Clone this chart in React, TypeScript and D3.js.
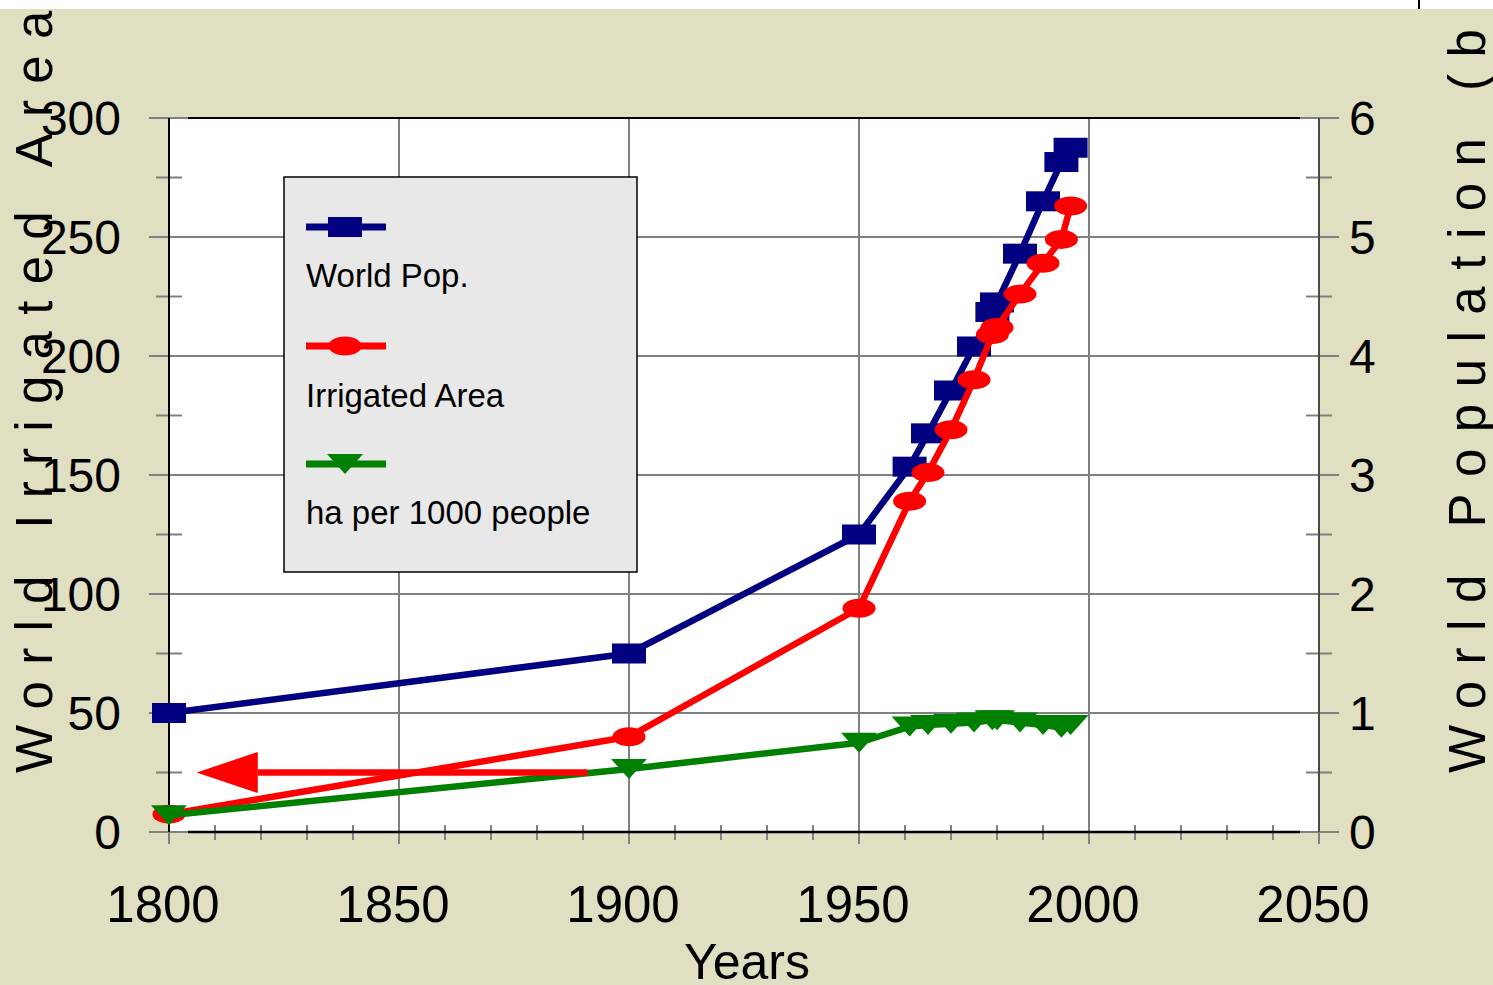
import React from "react";
import * as d3 from "d3";

// Series (years on x; population in billions on the right axis, area in Mha on the left)
const years = [1800, 1900, 1950, 1961, 1965, 1970, 1975, 1979, 1980, 1985, 1990, 1994, 1996];
const worldPop = [1.0, 1.5, 2.5, 3.07, 3.35, 3.71, 4.08, 4.37, 4.45, 4.86, 5.3, 5.63, 5.75];
const irrigatedArea = [7.5, 40, 94, 139, 151, 169, 190, 209, 212, 226, 239, 249, 263];
const haPer1000 = [7, 26.5, 37.5, 44.3, 45, 45.5, 46, 47, 47, 46, 45, 43.8, 45];

// Axis ticks
const xTicks = [1800, 1850, 1900, 1950, 2000, 2050];
const xMinorTicks = d3.range(1810, 2050, 10).filter((v) => v % 50 !== 0);
const leftTicks = [0, 50, 100, 150, 200, 250, 300];
const leftMinor = [25, 75, 125, 175, 225, 275];
const rightTicks = [0, 1, 2, 3, 4, 5, 6];

// Annotation arrow (points to the left axis): tail year, tip year, level on left axis
const arrowYears = [1891, 1806];
const arrowHeadBaseYear = 1819.3;
const arrowLevel = 25;

const legendLabels = ["World Pop.", "Irrigated Area", "ha per 1000 people"];

const W = 1493;
const H = 985;
const plot = { left: 169, right: 1319, top: 118, bottom: 832 };
const FONT = "'Liberation Sans', Arial, sans-serif";
const BG = "#E0DFC2";
const GRID = "#808080";

const BLUE = "#000080";
const RED = "#FF0000";
const GREEN = "#008000";

export default function App() {
  const x = d3.scaleLinear().domain([1800, 2050]).range([plot.left, plot.right]);
  const yL = d3.scaleLinear().domain([0, 300]).range([plot.bottom, plot.top]);
  const yR = d3.scaleLinear().domain([0, 6]).range([plot.bottom, plot.top]);

  const popPts: [number, number][] = years.map((yr, i) => [x(yr), yR(worldPop[i])]);
  const areaPts: [number, number][] = years.map((yr, i) => [x(yr), yL(irrigatedArea[i])]);
  const haPts: [number, number][] = years.map((yr, i) => [x(yr), yL(haPer1000[i])]);

  const line = d3.line();
  const lw = 6.5;

  const square = (cx: number, cy: number, key: any) => (
    <rect key={key} x={cx - 17} y={cy - 10} width={34} height={20} fill={BLUE} />
  );
  const ellipse = (cx: number, cy: number, key: any) => (
    <ellipse key={key} cx={cx} cy={cy} rx={16.5} ry={9.5} fill={RED} />
  );
  const triangle = (cx: number, cy: number, key: any) => (
    <path
      key={key}
      d={`M${cx - 18},${cy - 10}L${cx + 18},${cy - 10}L${cx},${cy + 10}Z`}
      fill={GREEN}
    />
  );

  const ay = yL(arrowLevel);
  const tailX = x(arrowYears[0]);
  const tipX = x(arrowYears[1]);
  const baseX = x(arrowHeadBaseYear);

  const legend = { x: 284, y: 177, w: 353, h: 395 };
  const legendRows = [227, 346, 464];
  const legendText = [287, 407, 524];
  const legendColors = [BLUE, RED, GREEN];
  const legendMarkers = [square, ellipse, triangle];

  return (
    <div style={{ position: "fixed", left: 0, top: 0 }}>
      <svg width={W} height={H} style={{ display: "block" }}>
        <rect x={0} y={0} width={W} height={H} fill={BG} />
        <rect
          x={plot.left}
          y={plot.top}
          width={plot.right - plot.left}
          height={plot.bottom - plot.top}
          fill="#fff"
        />

        {/* horizontal gridlines with outside major ticks on both sides */}
        {leftTicks.map((t) => (
          <line
            key={"h" + t}
            x1={plot.left - 20}
            x2={plot.right + 20}
            y1={yL(t)}
            y2={yL(t)}
            stroke={GRID}
            strokeWidth={2}
          />
        ))}
        {leftMinor.map((t) => (
          <g key={"m" + t}>
            <line x1={plot.left - 13} x2={plot.left + 13} y1={yL(t)} y2={yL(t)} stroke={GRID} strokeWidth={2} />
            <line x1={plot.right - 13} x2={plot.right + 13} y1={yL(t)} y2={yL(t)} stroke={GRID} strokeWidth={2} />
          </g>
        ))}
        {/* vertical gridlines */}
        {xTicks.map((t) => (
          <line
            key={"v" + t}
            x1={x(t)}
            x2={x(t)}
            y1={plot.top}
            y2={plot.bottom + 12}
            stroke={GRID}
            strokeWidth={2}
          />
        ))}
        {xMinorTicks.map((t) => (
          <line
            key={"xm" + t}
            x1={x(t)}
            x2={x(t)}
            y1={plot.bottom - 7}
            y2={plot.bottom + 8}
            stroke={GRID}
            strokeWidth={2}
          />
        ))}

        {/* frame */}
        <line x1={plot.left} x2={plot.left} y1={plot.top} y2={plot.bottom} stroke="#000" strokeWidth={2} />
        <line x1={plot.left + 19} x2={plot.right - 19} y1={plot.top} y2={plot.top} stroke="#000" strokeWidth={2} />
        <line x1={plot.left + 19} x2={plot.right - 19} y1={plot.bottom} y2={plot.bottom} stroke="#000" strokeWidth={2.5} />
        <line x1={plot.right} x2={plot.right} y1={plot.top} y2={plot.bottom} stroke="#4a4a4a" strokeWidth={2} />

        {/* series */}
        <path d={line(popPts) || ""} fill="none" stroke={BLUE} strokeWidth={lw} strokeLinejoin="round" />
        {popPts.map(([cx, cy], i) => square(cx, cy, "p" + i))}
        <path d={line(areaPts) || ""} fill="none" stroke={RED} strokeWidth={lw} strokeLinejoin="round" />
        {areaPts.map(([cx, cy], i) => ellipse(cx, cy, "a" + i))}
        <path d={line(haPts) || ""} fill="none" stroke={GREEN} strokeWidth={lw} strokeLinejoin="round" />
        {haPts.map(([cx, cy], i) => triangle(cx, cy, "g" + i))}

        {/* arrow toward the left axis */}
        <line x1={tailX} x2={baseX} y1={ay} y2={ay} stroke={RED} strokeWidth={6.5} />
        <path d={`M${tipX},${ay}L${baseX},${ay - 20.5}L${baseX},${ay + 20.5}Z`} fill={RED} />

        {/* left tick labels */}
        {leftTicks.map((t) => (
          <text key={"lt" + t} x={121} y={yL(t) + 17} textAnchor="end" fontFamily={FONT} fontSize={48} fill="#000">
            {t}
          </text>
        ))}
        {/* right tick labels */}
        {rightTicks.map((t) => (
          <text key={"rt" + t} x={1349} y={yR(t) + 17} textAnchor="start" fontFamily={FONT} fontSize={48} fill="#000">
            {t}
          </text>
        ))}
        {/* x tick labels */}
        {xTicks.map((t) => (
          <text key={"xt" + t} x={x(t) - 6} y={922} textAnchor="middle" fontFamily={FONT} fontSize={51} fill="#000">
            {t}
          </text>
        ))}
        <text x={747} y={979} textAnchor="middle" fontFamily={FONT} fontSize={50} fill="#000">
          Years
        </text>

        {/* axis titles */}
        <text
          transform="translate(52,773) rotate(-90)"
          fontFamily={FONT}
          fontSize={51}
          letterSpacing={16.3}
          fill="#000"
          style={{ whiteSpace: "pre" }}
        >
          World Irrigated Area (Mha)
        </text>
        <text
          transform="translate(1485,773) rotate(-90)"
          fontFamily={FONT}
          fontSize={51}
          letterSpacing={16.5}
          fill="#000"
          style={{ whiteSpace: "pre" }}
        >
          World Population (billions)
        </text>

        {/* legend */}
        <rect x={legend.x} y={legend.y} width={legend.w} height={legend.h} fill="#E8E8E8" stroke="#000" strokeWidth={1.5} />
        {legendLabels.map((lab, i) => (
          <g key={"lg" + i}>
            <line x1={306} x2={386} y1={legendRows[i]} y2={legendRows[i]} stroke={legendColors[i]} strokeWidth={7} />
            {legendMarkers[i](345, legendRows[i], "lm" + i)}
            <text x={306} y={legendText[i]} fontFamily={FONT} fontSize={33} fill="#000">
              {lab}
            </text>
          </g>
        ))}

        {/* page strip above the chart */}
        <rect x={0} y={0} width={W} height={9} fill="#fff" />
        <line x1={1419} x2={1419} y1={0} y2={9} stroke="#000" strokeWidth={2} />
      </svg>
    </div>
  );
}
